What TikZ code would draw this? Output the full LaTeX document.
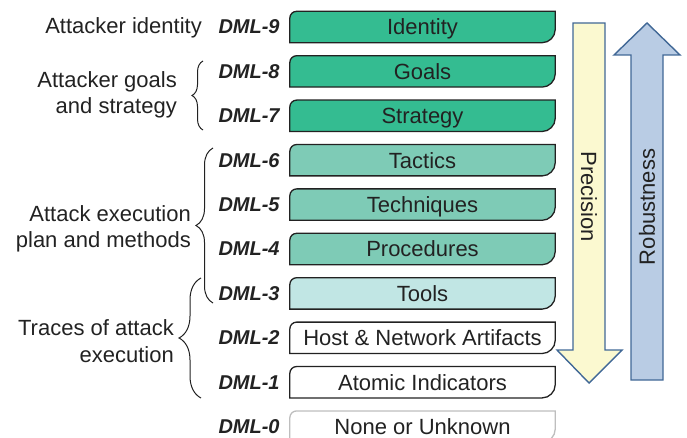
\documentclass[tikz,border=0pt]{standalone}
\usepackage{fontspec}
\setmainfont{Liberation Sans}
\usetikzlibrary{positioning,backgrounds,decorations.pathreplacing}

\definecolor{dmlA}{RGB}{52,188,145}
\definecolor{dmlB}{RGB}{126,203,182}
\definecolor{dmlC}{RGB}{193,230,228}
\definecolor{precfill}{RGB}{251,249,208}
\definecolor{robfill}{RGB}{185,204,228}
\definecolor{arrline}{RGB}{65,104,150}
\definecolor{txt}{RGB}{34,34,34}
\definecolor{noneline}{RGB}{190,190,190}

\tikzset{
  box/.style={minimum width=265pt, minimum height=31pt, inner sep=0pt, text=txt,
    text height=15.8pt, text depth=0pt, font=\fontsize{22}{26}\selectfont},
  dmlshape/.style={draw=txt, line width=1.3pt},
  dml/.style={inner sep=0pt, text=txt, font=\fontsize{20}{24}\selectfont\bfseries\itshape},
  lbl/.style={inner sep=0pt, text=txt, align=right, font=\fontsize{22}{26.5}\selectfont},
  brc/.style={draw=txt, line width=1pt, decorate},
  bigarrow/.style={draw=arrline, line width=1.4pt, line join=miter}
}

\begin{document}
\begin{tikzpicture}[x=1pt, y=-1pt]
\useasboundingbox (0,0) rectangle (687,438);

%% levels
\node[box] (b9) at (422.5,27) {Identity};
\node[box] (b8) at (422.5,71.4) {Goals};
\node[box] (b7) at (422.5,115.8) {Strategy};
\node[box] (b6) at (422.5,160.2) {Tactics};
\node[box] (b5) at (422.5,204.6) {Techniques};
\node[box] (b4) at (422.5,249) {Procedures};
\node[box] (b3) at (422.5,293.4) {Tools};
\node[box] (b2) at (422.5,337.8) {Host \& Network Artifacts};
\node[box] (b1) at (422.5,382.2) {Atomic Indicators};
\node[box] (b0) at (422.5,426.6) {None or Unknown};

%% level names
\node[dml, left=10pt of b9] (d9) {DML-9};
\node[dml, left=10pt of b8] (d8) {DML-8};
\node[dml, left=10pt of b7] (d7) {DML-7};
\node[dml, left=10pt of b6] (d6) {DML-6};
\node[dml, left=10pt of b5] (d5) {DML-5};
\node[dml, left=10pt of b4] (d4) {DML-4};
\node[dml, left=10pt of b3] (d3) {DML-3};
\node[dml, left=10pt of b2] (d2) {DML-2};
\node[dml, left=10pt of b1] (d1) {DML-1};
\node[dml, left=10pt of b0] (d0) {DML-0};

%% box outlines
\begin{scope}[on background layer]
\draw[dmlshape, fill=dmlA] ([yshift=-7pt]b9.north west) .. controls ([yshift=-3pt]b9.north west) and ([xshift=3pt]b9.north west) .. ([xshift=7pt]b9.north west) -- (b9.north east) -- ([yshift=13pt]b9.south east) .. controls ([yshift=6pt]b9.south east) and ([xshift=-6pt]b9.south east) .. ([xshift=-13pt]b9.south east) -- (b9.south west) -- cycle;
\draw[dmlshape, fill=dmlA] ([yshift=-7pt]b8.north west) .. controls ([yshift=-3pt]b8.north west) and ([xshift=3pt]b8.north west) .. ([xshift=7pt]b8.north west) -- (b8.north east) -- ([yshift=13pt]b8.south east) .. controls ([yshift=6pt]b8.south east) and ([xshift=-6pt]b8.south east) .. ([xshift=-13pt]b8.south east) -- (b8.south west) -- cycle;
\draw[dmlshape, fill=dmlA] ([yshift=-7pt]b7.north west) .. controls ([yshift=-3pt]b7.north west) and ([xshift=3pt]b7.north west) .. ([xshift=7pt]b7.north west) -- (b7.north east) -- ([yshift=13pt]b7.south east) .. controls ([yshift=6pt]b7.south east) and ([xshift=-6pt]b7.south east) .. ([xshift=-13pt]b7.south east) -- (b7.south west) -- cycle;
\draw[dmlshape, fill=dmlB] ([yshift=-7pt]b6.north west) .. controls ([yshift=-3pt]b6.north west) and ([xshift=3pt]b6.north west) .. ([xshift=7pt]b6.north west) -- (b6.north east) -- ([yshift=13pt]b6.south east) .. controls ([yshift=6pt]b6.south east) and ([xshift=-6pt]b6.south east) .. ([xshift=-13pt]b6.south east) -- (b6.south west) -- cycle;
\draw[dmlshape, fill=dmlB] ([yshift=-7pt]b5.north west) .. controls ([yshift=-3pt]b5.north west) and ([xshift=3pt]b5.north west) .. ([xshift=7pt]b5.north west) -- (b5.north east) -- ([yshift=13pt]b5.south east) .. controls ([yshift=6pt]b5.south east) and ([xshift=-6pt]b5.south east) .. ([xshift=-13pt]b5.south east) -- (b5.south west) -- cycle;
\draw[dmlshape, fill=dmlB] ([yshift=-7pt]b4.north west) .. controls ([yshift=-3pt]b4.north west) and ([xshift=3pt]b4.north west) .. ([xshift=7pt]b4.north west) -- (b4.north east) -- ([yshift=13pt]b4.south east) .. controls ([yshift=6pt]b4.south east) and ([xshift=-6pt]b4.south east) .. ([xshift=-13pt]b4.south east) -- (b4.south west) -- cycle;
\draw[dmlshape, fill=dmlC] ([yshift=-7pt]b3.north west) .. controls ([yshift=-3pt]b3.north west) and ([xshift=3pt]b3.north west) .. ([xshift=7pt]b3.north west) -- (b3.north east) -- ([yshift=13pt]b3.south east) .. controls ([yshift=6pt]b3.south east) and ([xshift=-6pt]b3.south east) .. ([xshift=-13pt]b3.south east) -- (b3.south west) -- cycle;
\draw[dmlshape, fill=white] ([yshift=-7pt]b2.north west) .. controls ([yshift=-3pt]b2.north west) and ([xshift=3pt]b2.north west) .. ([xshift=7pt]b2.north west) -- (b2.north east) -- ([yshift=13pt]b2.south east) .. controls ([yshift=6pt]b2.south east) and ([xshift=-6pt]b2.south east) .. ([xshift=-13pt]b2.south east) -- (b2.south west) -- cycle;
\draw[dmlshape, fill=white] ([yshift=-7pt]b1.north west) .. controls ([yshift=-3pt]b1.north west) and ([xshift=3pt]b1.north west) .. ([xshift=7pt]b1.north west) -- (b1.north east) -- ([yshift=13pt]b1.south east) .. controls ([yshift=6pt]b1.south east) and ([xshift=-6pt]b1.south east) .. ([xshift=-13pt]b1.south east) -- (b1.south west) -- cycle;
\draw[dmlshape, draw=noneline, fill=white] ([yshift=-7pt]b0.north west) .. controls ([yshift=-3pt]b0.north west) and ([xshift=3pt]b0.north west) .. ([xshift=7pt]b0.north west) -- (b0.north east) -- ([yshift=13pt]b0.south east) .. controls ([yshift=6pt]b0.south east) and ([xshift=-6pt]b0.south east) .. ([xshift=-13pt]b0.south east) -- (b0.south west) -- cycle;
\end{scope}

%% groups
\coordinate (gtop) at (203,61);
\coordinate (gbot) at (203,130);
\coordinate (etop) at (213,148);
\coordinate (ebot) at (213,303);
\coordinate (ttop) at (201,278);
\coordinate (tbot) at (201,398);

\draw[brc, decoration={brace, amplitude=11pt}] (gbot) -- (gtop);
\draw[brc, decoration={brace, amplitude=17pt}] (ebot) -- (etop);
\draw[brc, decoration={brace, amplitude=22pt}] (tbot) -- (ttop);

\node[lbl, anchor=east] (ident) at (202,28) {Attacker identity};
\node[lbl, anchor=east] (goals) at (177,95) {Attacker goals\\and strategy};
\node[lbl, anchor=east] (plan) at (191,229) {Attack execution\\plan and methods};
\node[lbl, anchor=east] (traces) at (174,341) {Traces of attack\\execution};

%% arrows
\draw[bigarrow, fill=precfill] (573,23) -- (605,23) -- (605,350) -- (622,350) -- (589,383) -- (557,350) -- (573,350) -- cycle;
\draw[bigarrow, fill=robfill] (631,380) -- (631,55) -- (614,55) -- (647,23) -- (680,55) -- (663,55) -- (663,380) -- cycle;

\node[lbl, rotate=-90] (prec) at (589,197) {Precision};
\node[lbl, rotate=90] (rob) at (647,207) {Robustness};

\end{tikzpicture}
\end{document}
